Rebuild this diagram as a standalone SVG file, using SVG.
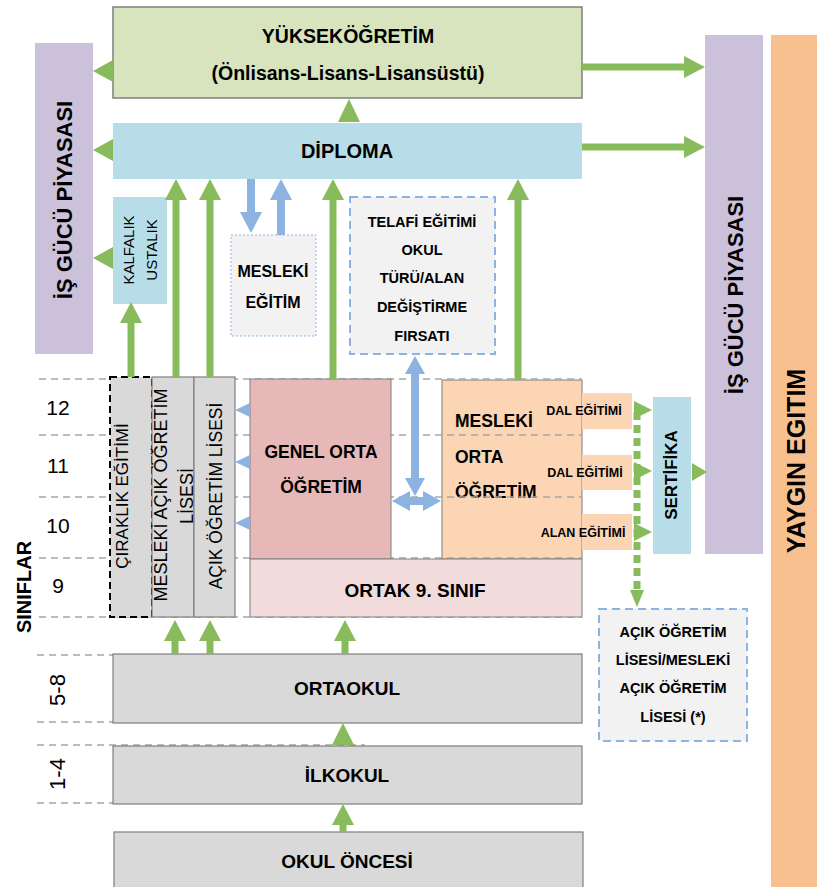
<svg xmlns="http://www.w3.org/2000/svg" width="817" height="887" viewBox="0 0 817 887">
<defs>
<style>
.t{font-family:"Liberation Sans",Arial,sans-serif;fill:#000}
.b{font-weight:bold}
.m{text-anchor:middle}
.gray{fill:#d9d9d9;stroke:#7f7f7f;stroke-width:1.2}
.grid{stroke:#a6a6a6;stroke-width:1.5;stroke-dasharray:7,5;fill:none}
.ga{stroke:#87bb5b;stroke-width:7;fill:none}
.gh{fill:#87bb5b}
.ba{stroke:#8db3e2;stroke-width:8;fill:none}
.bh{fill:#8db3e2}
.dashbox{fill:#f2f2f2;stroke:#8db3e2;stroke-width:2;stroke-dasharray:8,5}
</style>
<marker id="mg" markerUnits="userSpaceOnUse" markerWidth="21" markerHeight="22" viewBox="0 0 21 22" refX="1" refY="11" orient="auto"><path d="M0,0 L21,11 L0,22 Z" fill="#87bb5b"/></marker>
<marker id="mb" markerUnits="userSpaceOnUse" markerWidth="21" markerHeight="22" viewBox="0 0 21 22" refX="1" refY="11" orient="auto"><path d="M0,0 L21,11 L0,22 Z" fill="#8db3e2"/></marker>
<marker id="mb2" markerUnits="userSpaceOnUse" markerWidth="18" markerHeight="20" viewBox="0 0 18 20" refX="1" refY="10" orient="auto-start-reverse"><path d="M0,0 L18,10 L0,20 Z" fill="#8db3e2"/></marker>
</defs>
<rect width="817" height="887" fill="#fff"/>

<g id="yaygin">
<rect x="771" y="35" width="46" height="852" fill="#f9c08f"/>
<text class="t b m" font-size="25" transform="translate(805,461) rotate(-90)">YAYGIN EGITIM</text>
</g>
<g id="isgucu-left">
<rect x="35" y="43" width="58" height="311" fill="#ccc1da"/>
<text class="t b m" font-size="22" transform="translate(72,200) rotate(-90)">İŞ GÜCÜ PİYASASI</text>
</g>
<g id="isgucu-right">
<rect x="705" y="35" width="58" height="519" fill="#ccc1da"/>
<text class="t b m" font-size="22" transform="translate(743,295) rotate(-90)">İŞ GÜCÜ PİYASASI</text>
</g>
<g id="yuksekogretim">
<rect x="113" y="7" width="469" height="91" fill="#d7e4bd" stroke="#7f7f7f" stroke-width="1.5"/>
<text class="t b m" font-size="19.5" x="348" y="43">YÜKSEKÖĞRETİM</text>
<text class="t b m" font-size="19.5" x="348" y="80">(Önlisans-Lisans-Lisansüstü)</text>
</g>
<g id="diploma">
<rect x="113" y="123" width="469" height="56" fill="#b7dee8"/>
<text class="t b m" font-size="20" x="347" y="158">DİPLOMA</text>
</g>
<g id="kalfalik">
<rect x="113" y="197" width="54" height="107" fill="#b7dee8"/>
<text class="t m" font-size="15" transform="translate(134,250) rotate(-90)">KALFALIK</text>
<text class="t m" font-size="15" transform="translate(157,250) rotate(-90)">USTALIK</text>
</g>
<g id="mesleki-egitim">
<rect x="231" y="235" width="85" height="101" fill="#f2f2f2" stroke="#8db3e2" stroke-width="1" stroke-dasharray="2,2"/>
<text class="t b m" font-size="16" x="273" y="277">MESLEKİ</text>
<text class="t b m" font-size="16" x="273" y="308">EĞİTİM</text>
</g>
<g id="telafi">
<rect x="350" y="197" width="145" height="157" class="dashbox"/>
<text class="t b m" font-size="14.5" x="422" y="227">TELAFİ EĞİTİMİ</text>
<text class="t b m" font-size="14.5" x="422" y="255">OKUL</text>
<text class="t b m" font-size="14.5" x="422" y="283">TÜRÜ/ALAN</text>
<text class="t b m" font-size="14.5" x="422" y="312">DEĞİŞTİRME</text>
<text class="t b m" font-size="14.5" x="422" y="341">FIRSATI</text>
</g>
<g id="mesleki-orta">
<rect x="442" y="380" width="140" height="179" fill="#fcd5b5" stroke="#7f7f7f" stroke-width="1"/>
<text class="t b" font-size="17.5" x="455" y="427">MESLEKİ</text>
<text class="t b" font-size="17.5" x="455" y="463">ORTA</text>
<text class="t b" font-size="17.5" x="455" y="498">ÖĞRETİM</text>
</g>

<g id="grid">
<line class="grid" x1="39" y1="379" x2="582" y2="379"/>
<line class="grid" x1="39" y1="435" x2="582" y2="435"/>
<line class="grid" x1="39" y1="497" x2="582" y2="497"/>
<line class="grid" x1="39" y1="558" x2="582" y2="558"/>
<line class="grid" x1="39" y1="617" x2="582" y2="617"/>
<line class="grid" x1="37" y1="655" x2="113" y2="655"/>
<line class="grid" x1="37" y1="722" x2="113" y2="722"/>
<line class="grid" x1="37" y1="745" x2="365" y2="745"/>
<line class="grid" x1="37" y1="803" x2="113" y2="803"/>
</g>

<g id="dal1">
<rect x="582" y="393" width="50" height="36" fill="#fcd5b5"/>
<text class="t b m" font-size="12.5" x="584" y="415">DAL EĞİTİMİ</text>
</g>
<g id="dal2">
<rect x="582" y="455" width="50" height="35" fill="#fcd5b5"/>
<text class="t b m" font-size="12.5" x="585" y="477">DAL EĞİTİMİ</text>
</g>
<g id="alan">
<rect x="582" y="514" width="50" height="36" fill="#fcd5b5"/>
<text class="t b m" font-size="12.5" x="583" y="537">ALAN EĞİTİMİ</text>
</g>
<g id="sertifika">
<rect x="653" y="397" width="38" height="157" fill="#b7dee8"/>
<text class="t b m" font-size="17" transform="translate(677,475) rotate(-90)">SERTİFİKA</text>
</g>

<g id="siniflar">
<text class="t b m" font-size="20" transform="translate(31,587) rotate(-90)">SINIFLAR</text>
<text class="t m" font-size="21" x="58" y="415">12</text>
<text class="t m" font-size="21" x="58" y="473">11</text>
<text class="t m" font-size="21" x="58" y="533">10</text>
<text class="t m" font-size="21" x="58" y="593">9</text>
<text class="t m" font-size="22" transform="translate(65,690) rotate(-90)">5-8</text>
<text class="t m" font-size="22" transform="translate(65,774) rotate(-90)">1-4</text>
</g>

<g id="ciraklik">
<rect x="110" y="377" width="42" height="240" fill="#d9d9d9" stroke="#000" stroke-width="2" stroke-dasharray="7,4"/>
<text class="t m" font-size="17" transform="translate(128,496) rotate(-90)">ÇIRAKLIK EĞİTİMİ</text>
</g>
<g id="mesleki-acik">
<rect x="152" y="377" width="42" height="240" class="gray"/>
<text class="t m" font-size="18" transform="translate(167,495) rotate(-90)">MESLEKİ AÇIK ÖĞRETİM</text>
<text class="t m" font-size="18" transform="translate(193,496) rotate(-90)">LİSESİ</text>
</g>
<g id="acik-ogretim">
<rect x="194" y="377" width="41" height="240" class="gray"/>
<text class="t m" font-size="17.5" transform="translate(222,496) rotate(-90)">AÇIK ÖĞRETİM LİSESİ</text>
</g>
<g id="genel-orta">
<rect x="250" y="379" width="141" height="180" fill="#e6b9b8" stroke="#7f7f7f" stroke-width="1"/>
<text class="t b m" font-size="17.5" x="321" y="458">GENEL ORTA</text>
<text class="t b m" font-size="17.5" x="321" y="493">ÖĞRETİM</text>
</g>
<g id="ortak9">
<rect x="250" y="559" width="332" height="58" fill="#f2dcdb" stroke="#7f7f7f" stroke-width="1"/>
<text class="t b m" font-size="19" x="415" y="597">ORTAK 9. SINIF</text>
</g>
<g id="acik-lise">
<rect x="599" y="609" width="148" height="132" class="dashbox"/>
<text class="t b m" font-size="14.5" x="673" y="637">AÇIK ÖĞRETİM</text>
<text class="t b m" font-size="14.5" x="673" y="665">LİSESİ/MESLEKİ</text>
<text class="t b m" font-size="14.5" x="673" y="693">AÇIK ÖĞRETİM</text>
<text class="t b m" font-size="14.5" x="673" y="722">LİSESİ (*)</text>
</g>
<g id="ortaokul">
<rect x="113" y="654" width="469" height="69" class="gray"/>
<text class="t b m" font-size="19" x="347" y="695">ORTAOKUL</text>
</g>
<g id="ilkokul">
<rect x="113" y="746" width="469" height="58" class="gray"/>
<text class="t b m" font-size="19" x="347" y="782">İLKOKUL</text>
</g>
<g id="okul-oncesi">
<rect x="114" y="832" width="469" height="60" class="gray"/>
<text class="t b m" font-size="19" x="347" y="868">OKUL ÖNCESİ</text>
</g>

<g id="connectors">
<line class="ga" x1="582" y1="67" x2="685" y2="67" marker-end="url(#mg)"/>
<line class="ga" x1="582" y1="147" x2="685" y2="147" marker-end="url(#mg)"/>
<polygon class="gh" points="113,60 93,71 113,82"/>
<polygon class="gh" points="113,139 93,150 113,161"/>
<polygon class="gh" points="113,247 93,258 113,269"/>
<polygon class="gh" points="338,122 349,99 360,122"/>
<line class="ga" x1="131" y1="377" x2="131" y2="322" marker-end="url(#mg)"/>
<line class="ga" x1="176" y1="377" x2="176" y2="199" marker-end="url(#mg)"/>
<line class="ga" x1="210" y1="377" x2="210" y2="199" marker-end="url(#mg)"/>
<line class="ga" x1="333" y1="379" x2="333" y2="199" marker-end="url(#mg)"/>
<line class="ga" x1="518" y1="380" x2="518" y2="199" marker-end="url(#mg)"/>
<line class="ba" x1="251" y1="179" x2="251" y2="213" marker-end="url(#mb)"/>
<line class="ba" x1="281" y1="235" x2="281" y2="199" marker-end="url(#mb)"/>
<line class="ba" stroke-width="6" x1="415" y1="373" x2="415" y2="479" marker-start="url(#mb2)" marker-end="url(#mb2)"/>
<line class="ba" stroke-width="6" x1="409" y1="501" x2="424" y2="501" marker-start="url(#mb2)" marker-end="url(#mb2)"/>
<polygon class="bh" points="250,403 235,410 250,417"/>
<polygon class="bh" points="250,455 235,462 250,469"/>
<polygon class="bh" points="250,516 235,523 250,530"/>
<polygon class="gh" points="634,401 652,410 634,419"/>
<polygon class="gh" points="634,462 652,471 634,480"/>
<polygon class="gh" points="634,523 652,532 634,541"/>
<polygon class="gh" points="692,463 707,472 692,481"/>
<line class="ga" stroke-width="3" stroke-dasharray="8,5" x1="637" y1="412" x2="637" y2="591"/>
<polygon class="gh" points="630,590 644,590 637,607"/>
<line class="ga" stroke-width="6" x1="175" y1="654" x2="175" y2="640" marker-end="url(#mg)"/>
<line class="ga" stroke-width="6" x1="210" y1="654" x2="210" y2="640" marker-end="url(#mg)"/>
<line class="ga" stroke-width="6" x1="345" y1="654" x2="345" y2="640" marker-end="url(#mg)"/>
<polygon class="gh" points="332,745 343,723 354,745"/>
<line class="ga" stroke-width="6" x1="343" y1="832" x2="343" y2="824" marker-end="url(#mg)"/>
</g>
</svg>
